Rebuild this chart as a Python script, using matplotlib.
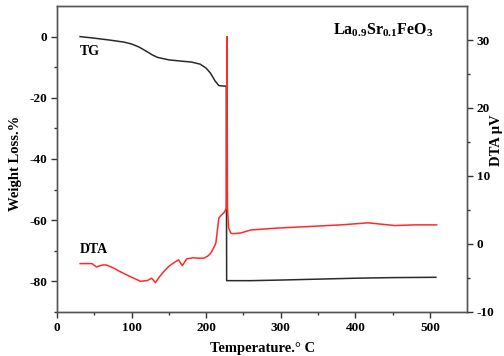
import matplotlib.pyplot as plt

plt.rcParams['font.family'] = 'Liberation Serif'
plt.rcParams['font.weight'] = 'bold'
plt.rcParams['axes.unicode_minus'] = False
plt.rcParams['mathtext.fontset'] = 'custom'
plt.rcParams['mathtext.rm'] = 'Liberation Serif:bold'
plt.rcParams['mathtext.it'] = 'Liberation Serif:bold'
plt.rcParams['mathtext.bf'] = 'Liberation Serif:bold'

# TG curve (weight loss, %)
tg_temp = [31, 50, 70, 90, 100, 110, 120, 128, 135, 150, 166, 180, 192, 200, 206, 212, 217, 220,
           227, 227.5, 240, 260, 300, 350, 400, 450, 508]
tg_loss = [0, -0.5, -1.1, -1.8, -2.4, -3.4, -4.8, -6.0, -6.8, -7.6, -8.0, -8.3, -9.0, -10.3,
           -12.0, -14.5, -16.0, -16.1, -16.2,
           -79.8, -79.8, -79.8, -79.6, -79.3, -79.0, -78.8, -78.7]

# DTA curve (uV)
dta_temp = [31, 40, 47, 53, 58, 62, 66, 75, 85, 98, 112, 121, 127, 132, 137, 143, 150, 157,
            163, 168, 174, 182, 190, 197, 202, 206, 210, 213, 217, 220, 224, 227, 228, 228.6,
            230, 233, 236, 246, 260, 273, 291, 336, 381, 417, 426, 453, 479, 509]
dta_uv = [-2.9, -2.9, -2.9, -3.4, -3.2, -3.1, -3.1, -3.5, -4.1, -4.8, -5.5, -5.4, -5.05, -5.7,
          -4.9, -4.1, -3.3, -2.75, -2.35, -3.2, -2.2, -2.05, -2.1, -2.1, -1.8, -1.4, -0.6, 0.1,
          3.8, 4.2, 4.6, 5.2, 30.5, 5.5,
          2.4, 1.6, 1.5, 1.6, 2.05, 2.15, 2.3, 2.55, 2.8, 3.1, 3.0, 2.7, 2.8, 2.8]

x_ticks = [0, 100, 200, 300, 400, 500]
left_ticks = [-80, -60, -40, -20, 0]
right_ticks = [-10, 0, 10, 20, 30]

fig = plt.figure(figsize=(5.04, 3.56), dpi=100)
ax = fig.add_axes([0.113, 0.124, 0.814, 0.859])
ax2 = ax.twinx()

ax.plot(tg_temp, tg_loss, color='#2a2a2a', lw=1.1)
ax2.plot(dta_temp, dta_uv, color='#ff2a2a', lw=1.1)

ax.set_xlim(0, 550)
ax.set_ylim(-90, 10)
ax2.set_ylim(-10, 35)

ax.set_xticks(x_ticks)
ax.set_xticks([50, 150, 250, 350, 450], minor=True)
ax.set_yticks(left_ticks)
ax.set_yticks([-90, -70, -50, -30, -10], minor=True)
ax2.set_yticks(right_ticks)
ax2.set_yticks([-5, 5, 15, 25], minor=True)

for a in (ax, ax2):
    a.tick_params(which='major', length=4, width=1, labelsize=9.5, color='#333333')
    a.tick_params(which='minor', length=2.5, width=1, color='#333333')
    for s in a.spines.values():
        s.set_color('#555555')
        s.set_linewidth(1)
ax.tick_params(axis='both', direction='out', pad=3)
ax2.tick_params(axis='y', direction='out', pad=3)

ax.set_xlabel('Temperature.° C', fontsize=10.5, fontweight='bold', labelpad=6)
ax.set_ylabel('Weight Loss.%', fontsize=10.5, fontweight='bold')
ax.yaxis.set_label_coords(-0.085, 0.487)
ax2.set_ylabel('DTA μV', fontsize=10.5, fontweight='bold')
ax2.yaxis.set_label_coords(1.056, 0.56)

ax.text(31, -5, 'TG', fontsize=10, fontweight='bold', va='center')
ax.text(31, -69.6, 'DTA', fontsize=10, fontweight='bold', va='center')
ax.text(0.673, 0.92, r'La$_{0.9}$Sr$_{0.1}$FeO$_3$', transform=ax.transAxes,
        fontsize=11.5, fontweight='bold', va='center')

fig.savefig('out.png', dpi=100)
